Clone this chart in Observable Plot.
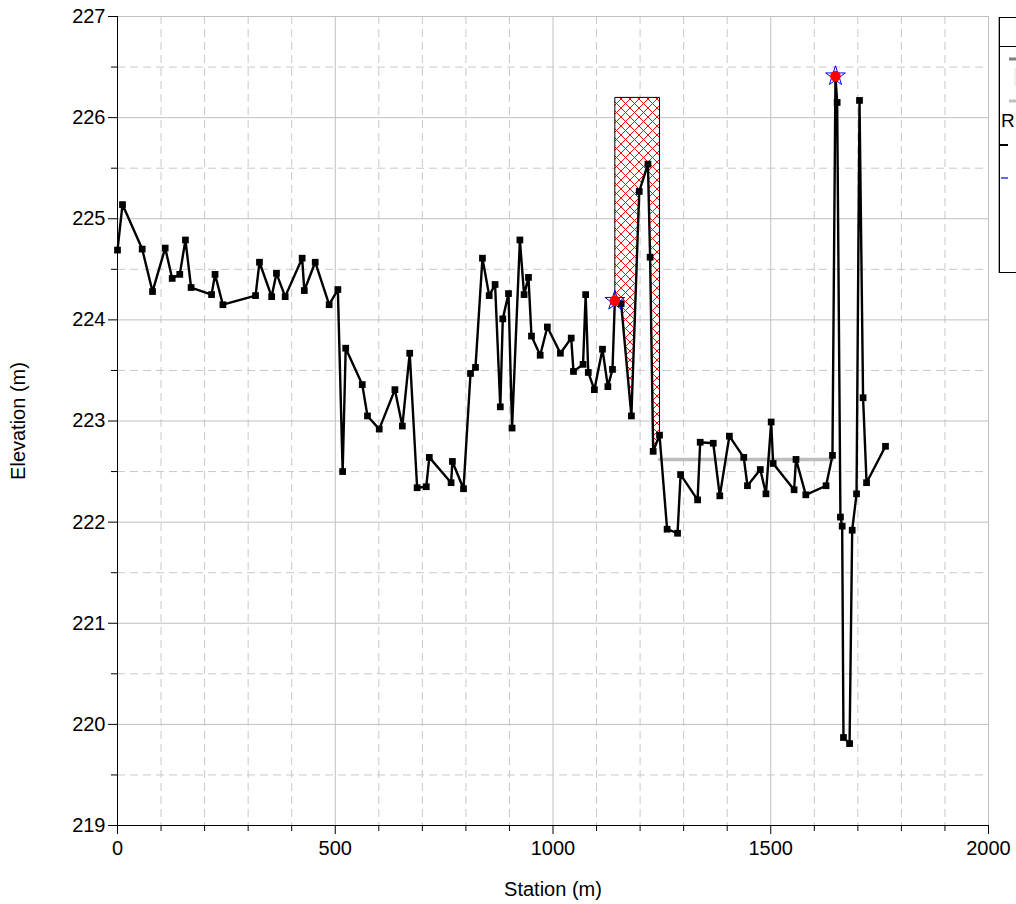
<!DOCTYPE html>
<html>
<head>
<meta charset="utf-8">
<script src="https://cdn.jsdelivr.net/npm/d3@7"></script>
<script src="https://cdn.jsdelivr.net/npm/@observablehq/plot@0.6"></script>
<style>
  html, body { margin: 0; padding: 0; background: #fff; overflow: hidden; }
  body { width: 1016px; height: 904px; position: relative; font-family: "Liberation Sans", Arial, sans-serif; }
  #chart { position: absolute; left: 0; top: 0; }
  #legend { position: absolute; left: 999px; top: 17px; width: 190px; height: 254px;
            border: 1px solid #000; background: #fff; box-shadow: -1px 0 0 #aaa; overflow: hidden; }
  #legend .hdr { height: 28px; border-bottom: 1px solid #000; }
</style>
</head>
<body>
<div id="chart"></div>
<div id="legend">
  <div class="hdr"></div>
  <svg width="190" height="225" style="position:absolute;left:0;top:29px" font-family="Liberation Sans, Arial, sans-serif" font-size="19">
    <line x1="9" x2="16" y1="12" y2="12" stroke="#808080" stroke-width="3"/>
    <line x1="15" x2="15" y1="21" y2="39" stroke="#e0e0e0" stroke-width="1"/>
    <line x1="9" x2="16" y1="54" y2="54" stroke="#c0c0c0" stroke-width="3"/>
    <text x="1" y="80">R</text>
    <line x1="0" x2="8" y1="98" y2="98" stroke="#000" stroke-width="2"/>
    <line x1="1" x2="8" y1="131" y2="131" stroke="#3030ff" stroke-width="1.5"/>
  </svg>
</div>
<script>
// ---- data ----
const groundStation = [0, 11.5, 56.7, 80.4, 109.5, 125.6, 143, 156, 169, 216, 224, 242, 317, 326, 354, 365, 385, 424, 429, 454, 486, 506, 517, 524, 562, 574, 601, 637, 654, 671, 688, 709, 716, 766, 769, 794.5, 810.6, 822, 838, 853.5, 867, 879, 884.7, 897.8, 906, 924, 933.6, 943.7, 950.6, 970.6, 987, 1017, 1041.8, 1047, 1069, 1075, 1081, 1095, 1113.6, 1126, 1136.6, 1142, 1156.5, 1180, 1198, 1218, 1223, 1230, 1244.6, 1262, 1286, 1293, 1332, 1338, 1368, 1383, 1405, 1438, 1446.5, 1476, 1489, 1501, 1505.5, 1553.6, 1558, 1580.5, 1627, 1641.7, 1648.6, 1652.5, 1660, 1664, 1667, 1681, 1687, 1697, 1703.8, 1712, 1720, 1763.5];
const groundElev = [224.69, 225.14, 224.70, 224.28, 224.71, 224.41, 224.45, 224.79, 224.32, 224.25, 224.45, 224.15, 224.24, 224.57, 224.23, 224.46, 224.23, 224.61, 224.29, 224.57, 224.15, 224.30, 222.50, 223.72, 223.36, 223.05, 222.92, 223.31, 222.95, 223.67, 222.34, 222.35, 222.64, 222.39, 222.60, 222.33, 223.47, 223.53, 224.61, 224.24, 224.35, 223.14, 224.01, 224.26, 222.93, 224.79, 224.25, 224.42, 223.84, 223.65, 223.93, 223.67, 223.82, 223.49, 223.56, 224.25, 223.48, 223.31, 223.71, 223.34, 223.51, 224.19, 224.16, 223.05, 225.27, 225.54, 224.62, 222.70, 222.86, 221.93, 221.89, 222.47, 222.22, 222.79, 222.78, 222.26, 222.85, 222.64, 222.36, 222.52, 222.28, 222.99, 222.58, 222.32, 222.62, 222.27, 222.36, 222.66, 226.41, 226.15, 222.05, 221.96, 219.87, 219.81, 221.92, 222.28, 226.17, 223.23, 222.39, 222.75];

// blocked obstruction (hatched)
const obstructionStation = [1142, 1244.6];
const obstructionTop = 226.2;

// water surface line
const wsStation = [1244.6, 1641.7];
const wsElev = 222.62;

// levee markers
const leveeStation = [1142, 1648.6];
const leveeElev = [224.19, 226.41];

// ticks
const xMajorTicks = [0, 500, 1000, 1500, 2000];
const xMinorTicks = [100, 200, 300, 400, 600, 700, 800, 900, 1100, 1200, 1300, 1400, 1600, 1700, 1800, 1900];
const yMajorTicks = [219, 220, 221, 222, 223, 224, 225, 226, 227];
const yMinorTicks = [219.5, 220.5, 221.5, 222.5, 223.5, 224.5, 225.5, 226.5];

// ---- tables ----
const ground = groundStation.map((s, i) => ({station: s, elev: groundElev[i]}));
const obsArea = ground.filter(d => d.station >= obstructionStation[0] && d.station <= obstructionStation[1]);
const obsOutline = [
  {station: obstructionStation[0], elev: obsArea[0].elev},
  {station: obstructionStation[0], elev: obstructionTop},
  {station: obstructionStation[1], elev: obstructionTop},
  {station: obstructionStation[1], elev: obsArea[obsArea.length - 1].elev}
];
const ws = wsStation.map(s => ({station: s, elev: wsElev}));
const levees = leveeStation.map((s, i) => ({station: s, elev: leveeElev[i]}));

const FS = 20;
const plot = Plot.plot({
  width: 1016,
  height: 904,
  marginTop: 16,
  marginRight: 28,
  marginBottom: 79,
  marginLeft: 117,
  style: {fontFamily: "Liberation Sans, Arial, sans-serif", background: "#fff", color: "#000"},
  x: {domain: [0, 2000]},
  y: {domain: [219, 227]},
  marks: [
    Plot.gridX(xMinorTicks, {stroke: "#c8c8c8", strokeOpacity: 1, strokeDasharray: "8,5"}),
    Plot.gridY(yMinorTicks, {stroke: "#c8c8c8", strokeOpacity: 1, strokeDasharray: "8,5"}),
    Plot.gridX(xMajorTicks, {stroke: "#c0c0c0", strokeOpacity: 1}),
    Plot.gridY(yMajorTicks, {stroke: "#c0c0c0", strokeOpacity: 1}),
    Plot.areaY(obsArea, {x: "station", y1: "elev", y2: () => obstructionTop, fill: "url(#xhatch)", curve: "linear"}),
    Plot.line(obsOutline, {x: "station", y: "elev", stroke: "#000", strokeWidth: 1}),
    Plot.line(ws, {x: "station", y: "elev", stroke: "#bdbdbd", strokeWidth: 3.5}),
    Plot.line(ground, {x: "station", y: "elev", stroke: "#000", strokeWidth: 2.4}),
    Plot.dot(ground, {x: "station", y: "elev", symbol: "square", r: 3.8, fill: "#000"}),
    Plot.dot(levees, {x: "station", y: "elev", symbol: "star", r: 6.2, fill: "none", stroke: "#0000ff", strokeWidth: 1}),
    Plot.dot(levees, {x: "station", y: "elev", r: 5.3, fill: "#ff0000"}),
    Plot.ruleX([0], {stroke: "#000"}),
    Plot.ruleY([219], {stroke: "#000"}),
    Plot.axisX({ticks: xMajorTicks, tickSize: 9, tickPadding: 6, fontSize: FS, label: null, tickFormat: d => String(d)}),
    Plot.axisX({ticks: xMinorTicks, tickSize: 6, label: null, tickFormat: () => ""}),
    Plot.axisY({ticks: yMajorTicks, tickSize: 9, tickPadding: 3, fontSize: FS, label: null, tickFormat: d => String(d)}),
    Plot.axisY({ticks: yMinorTicks, tickSize: 6, label: null, tickFormat: () => ""}),
    Plot.text(["Elevation (m)"], {frameAnchor: "left", dx: -99, rotate: -90, fontSize: FS, textAnchor: "middle", lineAnchor: "middle"}),
    Plot.text(["Station (m)"], {frameAnchor: "bottom", dy: 64, fontSize: FS, textAnchor: "middle", lineAnchor: "middle"})
  ]
});

// hatch pattern definition
const ns = "http://www.w3.org/2000/svg";
const defs = document.createElementNS(ns, "defs");
defs.innerHTML = '<pattern id="xhatch" patternUnits="userSpaceOnUse" width="9" height="9">' +
  '<rect width="9" height="9" fill="#fff"/>' +
  '<path d="M-1,-1L10,10M10,-1L-1,10" stroke="#ff0000" stroke-width="1" fill="none"/></pattern>';
plot.insertBefore(defs, plot.firstChild);
document.getElementById("chart").appendChild(plot);
</script>
</body>
</html>
